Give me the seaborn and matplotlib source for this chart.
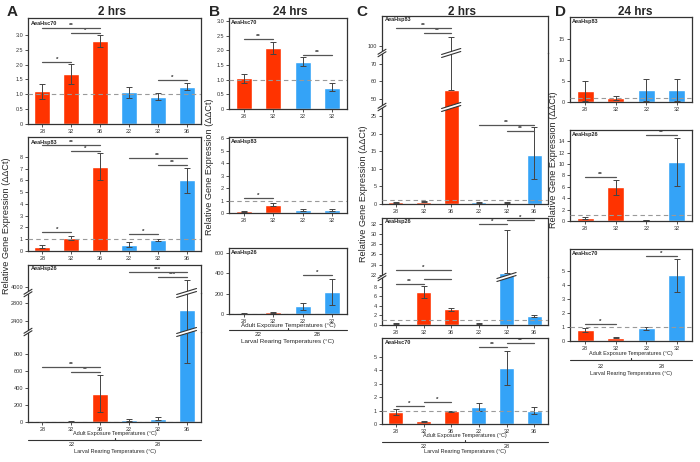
import matplotlib
matplotlib.use("Agg")
import matplotlib.pyplot as plt
import numpy as np
import pandas as pd
import seaborn as sns
from matplotlib.lines import Line2D
from matplotlib.patches import Polygon

sns.set_theme(style="white")
plt.rcParams['font.family'] = ['Liberation Sans', 'DejaVu Sans']
plt.rcParams['axes.edgecolor'] = '#333333'
plt.rcParams['axes.linewidth'] = 0.9

RED = '#ff3300'
BLUE = '#34a3f7'
PALETTE = {'22': RED, '28': BLUE}
W, H = 700, 462

# x categories (adult exposure) and larval rearing groups
adult_6 = ['28', '32', '36', '22', '32', '36']
larval_6 = ['22', '22', '22', '28', '28', '28']
adult_4 = ['28', '32', '22', '32']
larval_4 = ['22', '22', '28', '28']

# A - 2 hrs
a_hsc70_mean = [1.10, 1.67, 2.79, 1.07, 0.92, 1.25]
a_hsc70_low = [0.85, 1.34, 2.58, 0.88, 0.80, 1.13]
a_hsc70_high = [1.35, 2.01, 3.00, 1.26, 1.04, 1.37]
a_hsp83_mean = [0.35, 1.10, 7.15, 0.55, 0.95, 6.0]
a_hsp83_low = [0.22, 0.92, 6.0, 0.35, 0.85, 4.9]
a_hsp83_high = [0.48, 1.28, 8.3, 0.75, 1.05, 7.1]
a_hsp26_mean = [2, 8, 335, 20, 35, 2640]
a_hsp26_low = [0, 2, 120, 10, 20, 700]
a_hsp26_high = [4, 14, 550, 30, 55, 4150]

# B - 24 hrs
b_hsc70_mean = [1.05, 2.07, 1.60, 0.73]
b_hsc70_low = [0.90, 1.87, 1.45, 0.60]
b_hsc70_high = [1.20, 2.27, 1.76, 0.87]
b_hsp83_mean = [0.15, 0.65, 0.25, 0.25]
b_hsp83_low = [0.12, 0.55, 0.20, 0.20]
b_hsp83_high = [0.18, 0.78, 0.30, 0.30]
b_hsp26_mean = [5, 15, 75, 215]
b_hsp26_low = [3, 10, 40, 85]
b_hsp26_high = [7, 20, 110, 340]

# C - 2 hrs
c_hsp83_mean = [0.5, 0.7, 55, 0.5, 0.4, 14.0]
c_hsp83_low = [0.4, 0.6, 55, 0.4, 0.3, 7.0]
c_hsp83_high = [0.6, 0.8, 105, 0.6, 0.5, 22.0]
c_hsp26_mean = [0.3, 6.8, 3.3, 0.3, 22.3, 1.9]
c_hsp26_low = [0.2, 5.6, 2.9, 0.2, 22.3, 1.75]
c_hsp26_high = [0.4, 8.2, 3.6, 0.4, 30.7, 2.05]
c_hsc70_mean = [0.90, 0.20, 0.95, 1.25, 4.20, 1.00]
c_hsc70_low = [0.68, 0.17, 0.90, 0.95, 2.90, 0.75]
c_hsc70_high = [1.12, 0.23, 1.00, 1.55, 5.45, 1.28]

# D - 24 hrs
d_hsp83_mean = [2.5, 1.0, 2.8, 2.8]
d_hsp83_low = [0.2, 0.5, 0.2, 0.2]
d_hsp83_high = [5.0, 1.5, 5.5, 5.4]
d_hsp26_mean = [0.5, 5.9, 0.15, 10.4]
d_hsp26_low = [0.35, 4.5, 0.1, 6.2]
d_hsp26_high = [0.65, 7.2, 0.2, 14.6]
d_hsc70_mean = [0.80, 0.22, 0.90, 4.70]
d_hsc70_low = [0.65, 0.18, 0.78, 3.55]
d_hsc70_high = [0.95, 0.26, 1.02, 5.85]

# significance brackets: (from bar, to bar, height, stars)
a_hsc70_sig = [(0, 2, 3.23, '**'), (1, 2, 3.06, '*'), (0, 1, 2.09, '*'), (4, 5, 1.48, '*')]
a_hsp83_sig = [(0, 2, 9.0, '**'), (1, 2, 8.5, '*'), (0, 1, 1.6, '*'), (3, 4, 1.45, '*'),
               (3, 5, 7.9, '**'), (4, 5, 7.35, '**')]
a_hsp26_sig = [(0, 2, 650, '**'), (1, 2, 590, '**'), (3, 5, 4330, '***'), (4, 5, 4220, '***')]
b_hsc70_sig = [(0, 1, 2.39, '**'), (2, 3, 1.84, '**')]
b_hsp83_sig = [(0, 1, 1.2, '*')]
b_hsp26_sig = [(2, 3, 385, '*')]
c_hsp83_sig = [(0, 2, 110, '**'), (1, 2, 107.4, '**'), (3, 5, 22.6, '**'), (4, 5, 20.9, '**')]
c_hsp26_sig = [(0, 2, 23.0, '*'), (0, 1, 8.6, '**'), (1, 2, 9.5, '*'), (3, 4, 31.9, '*'), (4, 5, 32.8, '*')]
c_hsc70_sig = [(0, 1, 1.35, '*'), (1, 2, 1.65, '*'), (3, 4, 5.7, '**'), (4, 5, 6.0, '**')]
d_hsp83_sig = []
d_hsp26_sig = [(0, 1, 7.7, '**'), (2, 3, 15.1, '**')]
d_hsc70_sig = [(0, 1, 1.25, '*'), (2, 3, 6.1, '*')]

fig = plt.figure(figsize=(7, 4.62), dpi=100)


def to_fig(pts):
    return [(x / W, 1 - y / H) for x, y in pts]


def draw_break(xc, yc, half, rise, gap=3.0):
    lo = [(xc - half, yc + gap / 2 + rise / 2), (xc + half, yc + gap / 2 - rise / 2)]
    hi = [(xc - half, yc - gap / 2 + rise / 2), (xc + half, yc - gap / 2 - rise / 2)]
    fig.add_artist(Polygon(to_fig(lo + hi[::-1]), closed=True, transform=fig.transFigure,
                           facecolor='white', edgecolor='none', zorder=10))
    for seg in (lo, hi):
        xs, ys = zip(*to_fig(seg))
        fig.add_artist(Line2D(xs, ys, transform=fig.transFigure, color='#333333', lw=0.8, zorder=11))


def panel(box, segs, names, larval, mean, low, high, gene, sigs, dec=0):
    l, t, r, b = box
    n = len(names)
    df = pd.DataFrame({'pos': np.arange(n), 'value': mean, 'larval': larval})
    yerr = [np.subtract(mean, low), np.subtract(high, mean)]
    axes = []
    for k, (ylo, yhi, st, sb, ticks) in enumerate(segs):
        ax = fig.add_axes([l / W, 1 - sb / H, (r - l) / W, (sb - st) / H])
        sns.barplot(data=df, x='pos', y='value', hue='larval', palette=PALETTE, dodge=False,
                    width=0.55, saturation=1, legend=False, ax=ax)
        ax.errorbar(df['pos'], mean, yerr=yerr, fmt='none', ecolor='#444444',
                    elinewidth=0.7, capsize=2.5, capthick=0.7, zorder=3)
        ax.set_xlim(-0.5, n - 0.5)
        ax.set_ylim(ylo, yhi)
        ax.set_yticks(ticks)
        ax.set_yticklabels(['0' if v == 0 else f'{v:.{dec}f}' for v in ticks])
        ax.set_xlabel('')
        ax.set_ylabel('')
        ax.tick_params(axis='both', length=2, width=0.6, labelsize=4, pad=1.5, colors='#333333')
        ax.tick_params(axis='y', left=True)
        ax.tick_params(axis='x', bottom=True)
        if k == 0:
            ax.set_xticks(range(n))
            ax.set_xticklabels(names)
            ax.axhline(1, ls=(0, (4, 3)), color='#9a9a9a', lw=0.8, zorder=4)
        else:
            ax.set_xticks([])
            ax.spines['bottom'].set_visible(False)
        if k < len(segs) - 1:
            ax.spines['top'].set_visible(False)
        axes.append(ax)

    for i, j, y, lab in sigs:
        ax = next(a for a, s in zip(axes, segs) if s[0] <= y <= s[1])
        ax.plot([i, j], [y, y], color='#555555', lw=0.9, clip_on=False, zorder=5)
        ax.text((i + j) / 2, y, lab, ha='center', va='bottom', fontsize=4.5,
                fontweight='bold', color='#333333')

    axes[-1].text(0.015, 0.975, gene, transform=axes[-1].transAxes, fontsize=4,
                  fontweight='bold', va='top', ha='left')

    step = (r - l) / n
    for k in range(len(segs) - 1):
        yb = segs[k][2]
        draw_break(l, yb, 4, 5, gap=2.5)
        for i in range(n):
            if high[i] > segs[k][1] or mean[i] > segs[k][1]:
                draw_break(l + (i + 0.5) * step, yb, 0.55 / 2 * step + 2, 6)
    return axes


def single(box, ymax, ticks):
    return [(0, ymax, box[1], box[3], ticks)]


def column_text(letter, title, lx, tx, ylab_x, ylab_y, l, r, ys, fs=4):
    fig.text(lx / W, 1 - 12 / H, letter, fontsize=11, fontweight='bold', ha='center', va='center')
    fig.text(tx / W, 1 - 12 / H, title, fontsize=8.5, fontweight='bold', ha='center', va='center')
    fig.text(ylab_x / W, 1 - ylab_y / H, 'Relative Gene Expression (\u0394\u0394Ct)', rotation=90,
             fontsize=6.6, ha='center', va='center')
    y_adult, y_line, y_num, y_larval = ys
    cx = (l + r) / 2
    fig.text(cx / W, 1 - y_adult / H, 'Adult Exposure Temperatures (\u00b0C)', fontsize=fs,
             ha='center', va='center')
    fig.add_artist(Line2D([l / W, r / W], [1 - y_line / H] * 2, transform=fig.transFigure,
                          color='#333333', lw=0.8))
    fig.add_artist(Line2D([cx / W, cx / W], [1 - y_line / H, 1 - (y_line - 2) / H],
                          transform=fig.transFigure, color='#333333', lw=0.8))
    fig.text((l + (r - l) / 4) / W, 1 - y_num / H, '22', fontsize=fs, ha='center', va='center')
    fig.text((l + 3 * (r - l) / 4) / W, 1 - y_num / H, '28', fontsize=fs, ha='center', va='center')
    fig.text(cx / W, 1 - y_larval / H, 'Larval Rearing Temperatures (\u00b0C)', fontsize=fs,
             ha='center', va='center')


# column A
box = (28, 18, 201, 124)
panel(box, single(box, 3.57, [0, 0.5, 1.0, 1.5, 2.0, 2.5, 3.0]), adult_6, larval_6,
      a_hsc70_mean, a_hsc70_low, a_hsc70_high, 'AeaHsc70', a_hsc70_sig, dec=1)
box = (28, 137, 201, 251)
panel(box, single(box, 9.7, list(range(0, 9))), adult_6, larval_6,
      a_hsp83_mean, a_hsp83_low, a_hsp83_high, 'AeaHsp83', a_hsp83_sig)
box = (28, 265, 201, 422)
panel(box, [(0, 1060, 332, 422, [0, 200, 400, 600, 800]),
            (2150, 3020, 293, 332, [2400, 2800]),
            (3870, 4490, 265, 293, [4000])], adult_6, larval_6,
      a_hsp26_mean, a_hsp26_low, a_hsp26_high, 'AeaHsp26', a_hsp26_sig)
column_text('A', '2 hrs', 12, 112, 7, 226, 28, 201, (434, 440, 444, 451))

# column B
box = (229, 18, 347, 109)
panel(box, single(box, 3.1, [0, 0.5, 1.0, 1.5, 2.0, 2.5, 3.0]), adult_4, larval_4,
      b_hsc70_mean, b_hsc70_low, b_hsc70_high, 'AeaHsc70', b_hsc70_sig, dec=1)
box = (229, 137, 347, 213)
panel(box, single(box, 6.1, list(range(0, 7))), adult_4, larval_4,
      b_hsp83_mean, b_hsp83_low, b_hsp83_high, 'AeaHsp83', b_hsp83_sig)
box = (229, 248, 347, 314)
panel(box, single(box, 650, [0, 200, 400, 600]), adult_4, larval_4,
      b_hsp26_mean, b_hsp26_low, b_hsp26_high, 'AeaHsp26', b_hsp26_sig)
column_text('B', '24 hrs', 214, 290, 210, 167, 229, 347, (325, 330, 335, 341), fs=4.5)

# column C
box = (382, 16, 548, 204)
panel(box, [(0, 27.7, 107, 204, [0, 5, 10, 15, 20, 25]),
            (45.4, 76.3, 53, 107, [50, 60, 70]),
            (96, 117, 16, 53, [100])], adult_6, larval_6,
      c_hsp83_mean, c_hsp83_low, c_hsp83_high, 'AeaHsp83', c_hsp83_sig)
box = (382, 218, 548, 325)
panel(box, [(0, 10, 277, 325, [0, 2, 4, 6, 8]),
            (21.6, 33.1, 218, 277, [22, 24, 26, 28, 30, 32])], adult_6, larval_6,
      c_hsp26_mean, c_hsp26_low, c_hsp26_high, 'AeaHsp26', c_hsp26_sig)
box = (382, 338, 548, 424)
panel(box, single(box, 6.4, list(range(0, 6))), adult_6, larval_6,
      c_hsc70_mean, c_hsc70_low, c_hsc70_high, 'AeaHsc70', c_hsc70_sig)
column_text('C', '2 hrs', 362, 462, 363, 194, 382, 548, (436, 442, 446, 452))

# column D
box = (570, 17, 692, 102)
panel(box, single(box, 20.2, [0, 5, 10, 15]), adult_4, larval_4,
      d_hsp83_mean, d_hsp83_low, d_hsp83_high, 'AeaHsp83', d_hsp83_sig)
box = (570, 130, 692, 221)
panel(box, single(box, 16, list(range(0, 15, 2))), adult_4, larval_4,
      d_hsp26_mean, d_hsp26_low, d_hsp26_high, 'AeaHsp26', d_hsp26_sig)
box = (570, 249, 692, 341)
panel(box, single(box, 6.6, list(range(0, 6))), adult_4, larval_4,
      d_hsc70_mean, d_hsc70_low, d_hsc70_high, 'AeaHsc70', d_hsc70_sig)
column_text('D', '24 hrs', 561, 635, 553, 160, 570, 692, (353, 360, 366, 373))

fig.savefig('out.png', dpi=100)
